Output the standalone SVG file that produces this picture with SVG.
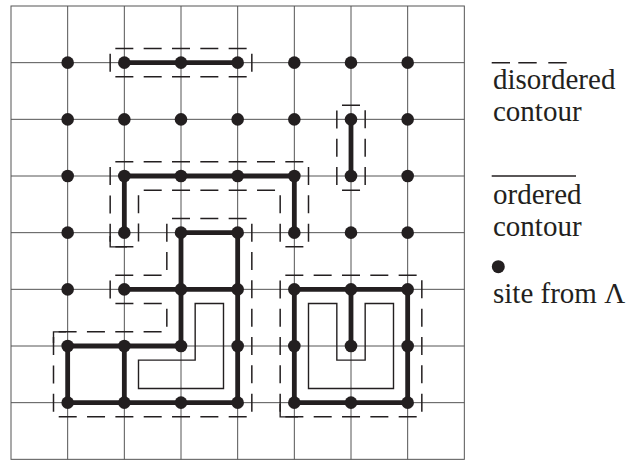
<svg xmlns="http://www.w3.org/2000/svg" width="641" height="460" viewBox="0 0 641 460">
<style>
.grid{stroke:#555;stroke-width:1;fill:none}
.thick{stroke:#231f20;stroke-width:4.8;fill:none;stroke-linejoin:miter}
.thin{stroke:#231f20;stroke-width:1.4;fill:none}
.dash{stroke:#231f20;stroke-width:1.5;fill:none;stroke-dasharray:18 10.33;stroke-dashoffset:23.17}
.site{fill:#231f20}
.lbl{font-family:"Liberation Serif","Times New Roman",serif;font-size:29px;fill:#231f20}
</style>
<rect width="641" height="460" fill="#fff"/>
<g id="grid" class="grid">
<rect x="11" y="6" width="453.33" height="453.33"/>
<path d="M67.67,6V459.33M124.33,6V459.33M181,6V459.33M237.67,6V459.33M294.33,6V459.33M351,6V459.33M407.67,6V459.33"/>
<path d="M11,62.67H464.33M11,119.33H464.33M11,176H464.33M11,232.67H464.33M11,289.33H464.33M11,346H464.33M11,402.67H464.33"/>
</g>
<g id="connectors">
<g id="disordered-contours">
<path class="dash" d="M110.17,48.5H251.83V76.83H110.17Z"/>
<path class="dash" d="M336.83,105.17H365.17V190.17H336.83Z"/>
<path class="dash" d="M110.17,161.83H308.5V246.83H280.17V190.17H138.5V246.83H110.17Z"/>
<path class="dash" d="M166.83,218.5H251.83V416.83H53.5V331.83H166.83V303.5H110.17V275.17H166.83Z"/>
<path class="dash" d="M280.17,275.17H421.83V416.83H280.17Z"/>
<path class="thin" d="M110.17,236V246.83H127M280.17,404V416.83H298M66,331.83H53.5V343"/>
</g>
<g id="ordered-contours">
<path class="thick" d="M124.33,62.67H237.67"/>
<path class="thick" d="M351,119.33V176"/>
<path class="thick" d="M124.33,232.67V176H294.33V232.67"/>
<path class="thick" d="M181,346V232.67H237.67V402.67H67.67V346H181M124.33,289.33H237.67M124.33,346V402.67"/>
<path class="thick" d="M294.33,289.33H407.67V402.67H294.33ZM351,289.33V346"/>
<path class="thin" d="M195.17,303.5H223.5V388.5H138.5V360.17H195.17Z"/>
<path class="thin" d="M308.5,303.5H336.83V360.17H365.17V303.5H393.5V388.5H308.5Z"/>
</g>
</g>
<g id="sites" class="site">
<circle cx="67.67" cy="62.67" r="6.3"/><circle cx="124.33" cy="62.67" r="6.3"/><circle cx="181" cy="62.67" r="6.3"/><circle cx="237.67" cy="62.67" r="6.3"/><circle cx="294.33" cy="62.67" r="6.3"/><circle cx="351" cy="62.67" r="6.3"/><circle cx="407.67" cy="62.67" r="6.3"/>
<circle cx="67.67" cy="119.33" r="6.3"/><circle cx="124.33" cy="119.33" r="6.3"/><circle cx="181" cy="119.33" r="6.3"/><circle cx="237.67" cy="119.33" r="6.3"/><circle cx="294.33" cy="119.33" r="6.3"/><circle cx="351" cy="119.33" r="6.3"/><circle cx="407.67" cy="119.33" r="6.3"/>
<circle cx="67.67" cy="176" r="6.3"/><circle cx="124.33" cy="176" r="6.3"/><circle cx="181" cy="176" r="6.3"/><circle cx="237.67" cy="176" r="6.3"/><circle cx="294.33" cy="176" r="6.3"/><circle cx="351" cy="176" r="6.3"/><circle cx="407.67" cy="176" r="6.3"/>
<circle cx="67.67" cy="232.67" r="6.3"/><circle cx="124.33" cy="232.67" r="6.3"/><circle cx="181" cy="232.67" r="6.3"/><circle cx="237.67" cy="232.67" r="6.3"/><circle cx="294.33" cy="232.67" r="6.3"/><circle cx="351" cy="232.67" r="6.3"/><circle cx="407.67" cy="232.67" r="6.3"/>
<circle cx="67.67" cy="289.33" r="6.3"/><circle cx="124.33" cy="289.33" r="6.3"/><circle cx="181" cy="289.33" r="6.3"/><circle cx="237.67" cy="289.33" r="6.3"/><circle cx="294.33" cy="289.33" r="6.3"/><circle cx="351" cy="289.33" r="6.3"/><circle cx="407.67" cy="289.33" r="6.3"/>
<circle cx="67.67" cy="346" r="6.3"/><circle cx="124.33" cy="346" r="6.3"/><circle cx="181" cy="346" r="6.3"/><circle cx="237.67" cy="346" r="6.3"/><circle cx="294.33" cy="346" r="6.3"/><circle cx="351" cy="346" r="6.3"/><circle cx="407.67" cy="346" r="6.3"/>
<circle cx="67.67" cy="402.67" r="6.3"/><circle cx="124.33" cy="402.67" r="6.3"/><circle cx="181" cy="402.67" r="6.3"/><circle cx="237.67" cy="402.67" r="6.3"/><circle cx="294.33" cy="402.67" r="6.3"/><circle cx="351" cy="402.67" r="6.3"/><circle cx="407.67" cy="402.67" r="6.3"/>
</g>
<g id="legend-disordered">
<path class="thin" d="M491.7,62.7H510M518.3,62.7H536.7M548.3,62.7H566.7" stroke-width="1.6"/>
<text class="lbl" x="493" y="88.5">disordered</text>
<text class="lbl" x="493" y="121">contour</text>
</g>
<g id="legend-ordered">
<path class="thin" d="M491.7,176H576" stroke-width="1.6"/>
<text class="lbl" x="493" y="203.5">ordered</text>
<text class="lbl" x="493" y="236">contour</text>
</g>
<g id="legend-site">
<circle class="site" cx="498.3" cy="266.7" r="6.5"/>
<text class="lbl" x="493" y="302.7">site from Λ</text>
</g>
</svg>
